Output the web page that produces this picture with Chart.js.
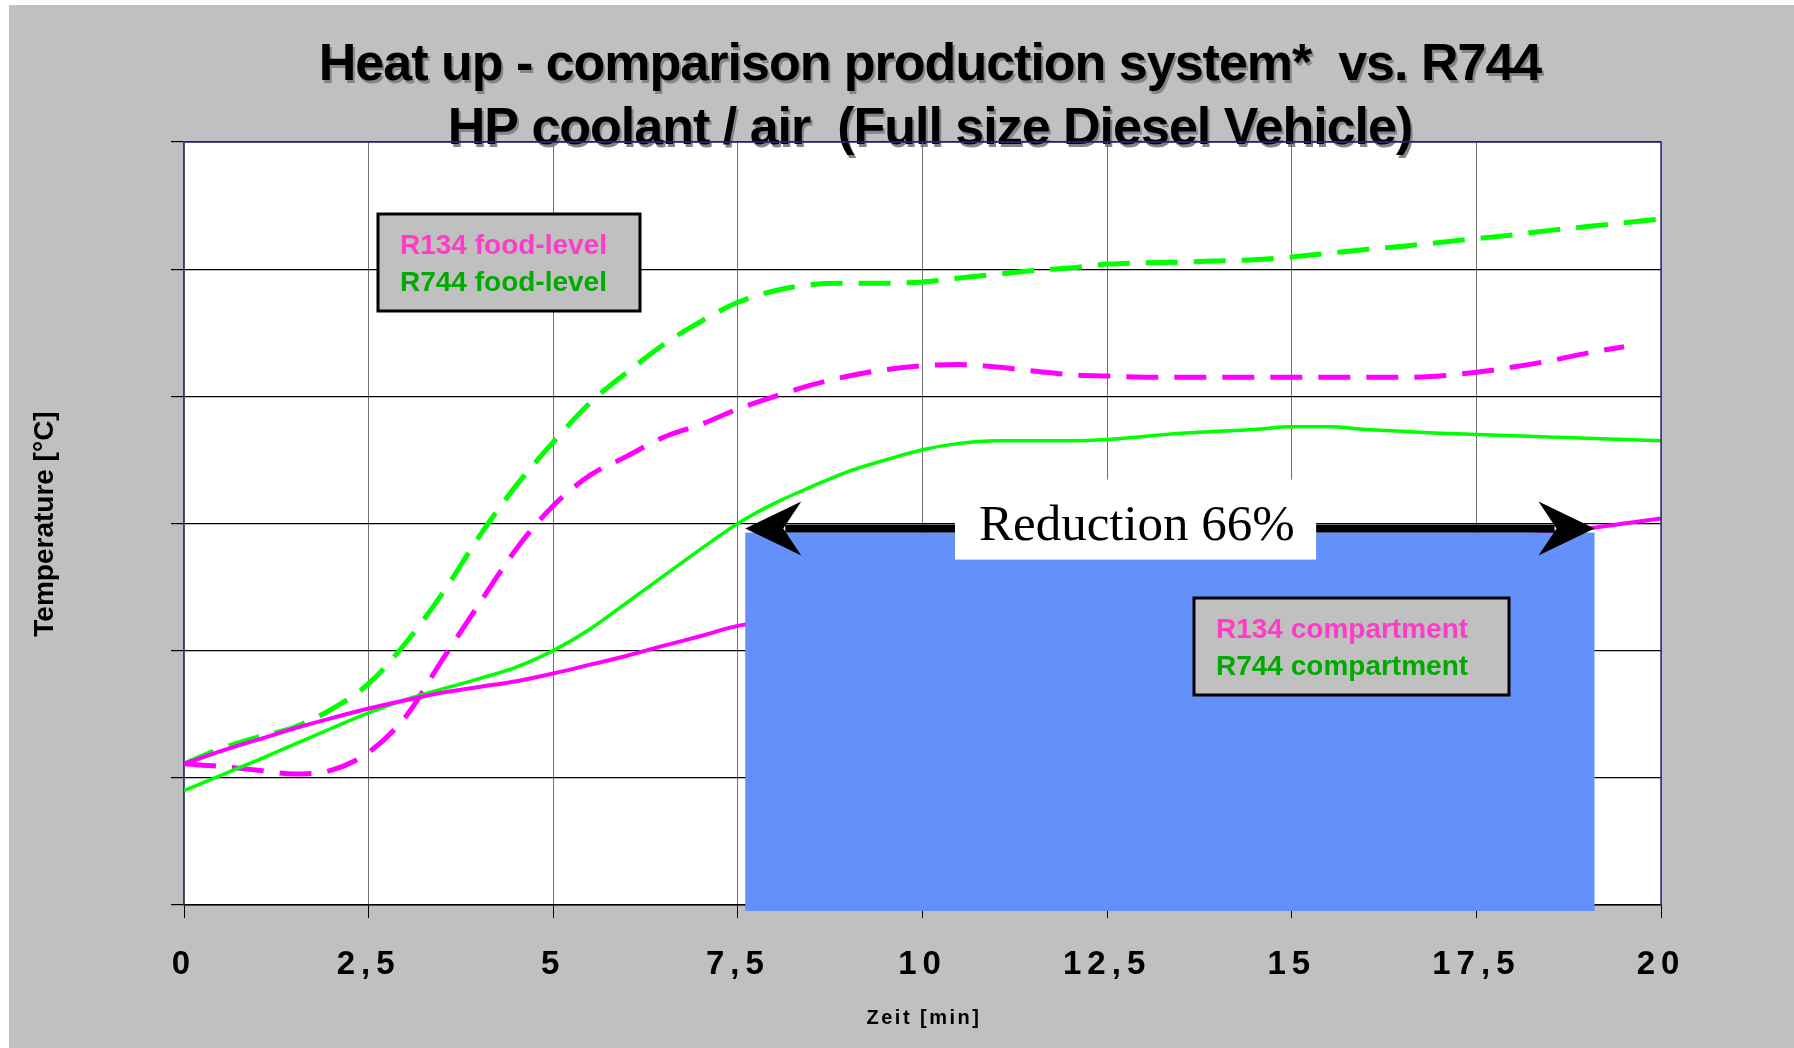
<!DOCTYPE html>
<html>
<head>
<meta charset="utf-8">
<script src="https://cdn.jsdelivr.net/npm/chart.js@4.4.1/dist/chart.umd.min.js"></script>
<style>
    html, body { margin: 0; padding: 0; background: #ffffff; }
    canvas { display: block; }
</style>
</head>
<body>
<canvas id="chart1" width="1794" height="1048"></canvas>
<script>
// time axis [min]
const timeMin = [0, 0.5, 1, 1.5, 2, 2.5, 3, 3.5, 4, 4.5, 5, 5.5, 6, 6.5, 7, 7.5, 8, 8.5, 9, 9.5,
    10, 10.5, 11, 11.5, 12, 12.5, 13, 13.5, 14, 14.5, 15, 15.5, 16, 16.5, 17, 17.5, 18, 18.5, 19, 19.5, 20];

// temperatures (y axis has no labels)
const r134Food = [-8.9, -9.1, -9.4, -9.7, -9.4, -8.0, -5.2, -0.7, 3.7, 8.0, 11.4, 13.8, 15.3, 16.8, 17.8, 19.0,
    20.0, 20.9, 21.6, 22.1, 22.4, 22.5, 22.3, 22.0, 21.7, 21.6, 21.5, 21.5, 21.5, 21.5, 21.5, 21.5, 21.5, 21.5,
    21.6, 21.9, 22.3, 22.8, 23.4, 23.9, null];
const r744Food = [-8.9, -7.7, -6.8, -6.0, -4.6, -2.6, 0.6, 4.5, 9.0, 13.0, 16.4, 19.5, 21.9, 24.1, 25.9, 27.4,
    28.3, 28.8, 28.9, 28.9, 29.0, 29.3, 29.6, 29.9, 30.1, 30.4, 30.5, 30.55, 30.65, 30.75, 30.95, 31.25, 31.55,
    31.8, 32.1, 32.4, 32.7, 33.05, 33.35, 33.65, 33.95];
const r134Comp = [-8.9, -7.9, -7.0, -6.1, -5.3, -4.55, -3.9, -3.3, -2.85, -2.4, -1.8, -1.1, -0.4, 0.4, 1.15, 1.95,
    null, null, null, null, null, null, null, null, null, null, null, null, null, null, null, null, null, null,
    null, null, null, null, 9.6, 10.0, 10.4];
const r744Comp = [-11.0, -9.8, -8.6, -7.35, -6.1, -4.9, -3.85, -3.0, -2.2, -1.3, 0.0, 1.7, 3.8, 5.9, 8.0, 10.0,
    11.6, 12.9, 14.1, 15.0, 15.8, 16.3, 16.5, 16.5, 16.5, 16.6, 16.85, 17.1, 17.25, 17.4, 17.6, 17.6, 17.4, 17.25,
    17.1, 17.0, 16.9, 16.8, 16.7, 16.6, 16.5];

const titleLines = ['Heat up - comparison production system*  vs. R744', 'HP coolant / air  (Full size Diesel Vehicle)'];
const reductionText = 'Reduction 66%';
const reductionFrom = 7.6;
const reductionTo = 19.1;
const reductionLevel = 9.6;

const FONT = "'Liberation Sans', Arial, sans-serif";

function toPairs(values) {
    return timeMin.map((t, i) => ({ x: t, y: values[i] }));
}

function arrowHead(ctx, tipX, y, dir) {
    // dir = 1 points right, -1 points left
    ctx.beginPath();
    ctx.moveTo(tipX, y);
    ctx.lineTo(tipX - dir * 56, y - 27);
    ctx.lineTo(tipX - dir * 38, y);
    ctx.lineTo(tipX - dir * 56, y + 27);
    ctx.closePath();
    ctx.fill();
}

function legendBox(ctx, left, top, w, h, lines) {
    ctx.fillStyle = '#c0c0c0';
    ctx.fillRect(left, top, w, h);
    ctx.lineWidth = 3;
    ctx.strokeStyle = '#000000';
    ctx.strokeRect(left, top, w, h);
    ctx.font = 'bold 28px ' + FONT;
    ctx.textAlign = 'left';
    ctx.textBaseline = 'alphabetic';
    lines.forEach((l, i) => {
        ctx.fillStyle = l.color;
        ctx.fillText(l.text, left + 22, top + 40 + i * 37);
    });
}

const decor = {
    id: 'decor',
    beforeDraw(chart) {
        const ctx = chart.ctx;
        const a = chart.chartArea;
        ctx.save();
        ctx.fillStyle = '#ffffff';
        ctx.fillRect(0, 0, chart.width, chart.height);
        ctx.fillStyle = '#c0c0c0';
        ctx.fillRect(9, 5, chart.width - 9, chart.height - 5);
        ctx.fillStyle = '#ffffff';
        ctx.fillRect(a.left, a.top, a.right - a.left, a.bottom - a.top);

        // title with shadow
        ctx.font = 'bold 52px ' + FONT;
        ctx.letterSpacing = '-1px';
        ctx.textAlign = 'center';
        ctx.textBaseline = 'alphabetic';
        titleLines.forEach((t, i) => {
            const y = 80 + i * 64;
            ctx.fillStyle = '#858585';
            ctx.fillText(t, 932, y + 3);
            ctx.fillStyle = '#000000';
            ctx.fillText(t, 930, y);
        });

        // axis titles
        ctx.letterSpacing = '0px';
        ctx.fillStyle = '#000000';
        ctx.save();
        ctx.translate(53, 524);
        ctx.rotate(-Math.PI / 2);
        ctx.font = 'bold 28px ' + FONT;
        ctx.fillText('Temperature [°C]', 0, 0);
        ctx.restore();

        ctx.font = 'bold 20px ' + FONT;
        ctx.letterSpacing = '2.5px';
        ctx.fillText('Zeit [min]', 924, 1024);
        ctx.restore();
        // spaced-out tick labels on the time axis
        ctx.letterSpacing = '6px';
    },
    afterDraw(chart) {
        const ctx = chart.ctx;
        const a = chart.chartArea;
        const xs = chart.scales.x;
        const ys = chart.scales.y;
        ctx.save();
        ctx.letterSpacing = '0px';

        // plot frame top / right
        ctx.strokeStyle = '#2b2b85';
        ctx.lineWidth = 1.5;
        ctx.beginPath();
        ctx.moveTo(a.left, a.top);
        ctx.lineTo(a.right, a.top);
        ctx.lineTo(a.right, a.bottom);
        ctx.stroke();

        const x1 = xs.getPixelForValue(reductionFrom);
        const x2 = xs.getPixelForValue(reductionTo);
        const ay = ys.getPixelForValue(reductionLevel);

        // blue reduction area
        ctx.fillStyle = '#6490fa';
        ctx.fillRect(x1, ay + 4, x2 - x1, a.bottom + 6 - (ay + 4));

        // double arrow
        ctx.fillStyle = '#000000';
        ctx.fillRect(x1 + 40, ay - 4, x2 - x1 - 80, 8);
        arrowHead(ctx, x1, ay, -1);
        arrowHead(ctx, x2, ay, 1);

        // label box
        const bx1 = xs.getPixelForValue(10.44);
        const bx2 = xs.getPixelForValue(15.33);
        ctx.fillStyle = '#ffffff';
        ctx.fillRect(bx1, ay - 49, bx2 - bx1, 80);
        ctx.fillStyle = '#000000';
        ctx.font = "51px 'Liberation Serif', 'Times New Roman', serif";
        ctx.textAlign = 'left';
        ctx.textBaseline = 'alphabetic';
        ctx.fillText(reductionText, bx1 + 24, ay + 11);

        legendBox(ctx, 378, 214, 262, 97, [
            { text: 'R134 food-level', color: '#ff3cc8' },
            { text: 'R744 food-level', color: '#00aa00' }
        ]);
        legendBox(ctx, 1194, 598, 315, 97, [
            { text: 'R134 compartment', color: '#ff3cc8' },
            { text: 'R744 compartment', color: '#00aa00' }
        ]);
        ctx.restore();
    }
};

const ctx1 = document.getElementById('chart1').getContext('2d');
const chart1 = new Chart(ctx1, {
    type: 'line',
    data: {
        datasets: [{
            label: 'R134 compartment',
            data: toPairs(r134Comp),
            borderColor: '#ff00ff',
            borderWidth: 4,
            spanGaps: true
        }, {
            label: 'R744 compartment',
            data: toPairs(r744Comp),
            borderColor: '#00ff00',
            borderWidth: 3.5
        }, {
            label: 'R134 food-level',
            data: toPairs(r134Food),
            borderColor: '#ff00ff',
            borderWidth: 5,
            borderDash: [32, 16]
        }, {
            label: 'R744 food-level',
            data: toPairs(r744Food),
            borderColor: '#00ff00',
            borderWidth: 5,
            borderDash: [32, 16]
        }]
    },
    options: {
        responsive: false,
        animation: false,
        devicePixelRatio: 1,
        layout: {
            padding: { top: 142, right: 133, left: 0, bottom: 0 }
        },
        elements: {
            point: { radius: 0 },
            line: { cubicInterpolationMode: 'monotone', fill: false }
        },
        scales: {
            x: {
                type: 'linear',
                min: 0,
                max: 20,
                afterFit: (scale) => { scale.height = 143; },
                grid: {
                    color: '#707070',
                    lineWidth: 1,
                    tickLength: 13,
                    tickColor: '#000000'
                },
                border: { color: '#000000', width: 1.5 },
                ticks: {
                    stepSize: 2.5,
                    padding: 27,
                    maxRotation: 0,
                    color: '#000000',
                    font: { family: FONT, size: 33, weight: 'bold' },
                    callback: (v) => String(v).replace('.', ',')
                }
            },
            y: {
                min: -20,
                max: 40,
                afterFit: (scale) => { scale.width = 184; },
                grid: {
                    color: '#000000',
                    lineWidth: 1.2,
                    tickLength: 13
                },
                border: { color: '#3a3a6a', width: 1.5 },
                ticks: {
                    stepSize: 10,
                    display: false
                }
            }
        },
        plugins: {
            legend: { display: false },
            title: { display: false },
            tooltip: { enabled: false }
        }
    },
    plugins: [decor]
});
</script>
</body>
</html>
